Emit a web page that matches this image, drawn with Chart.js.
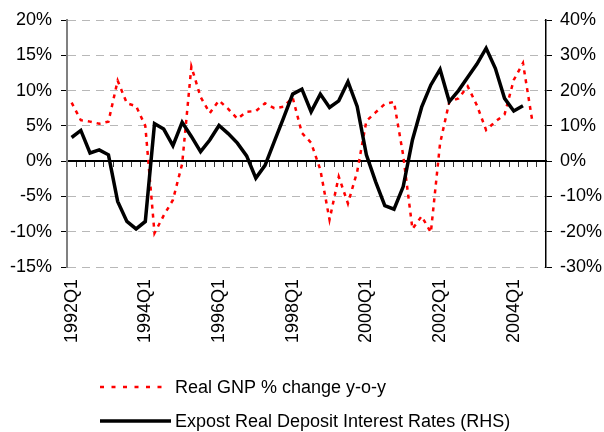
<!DOCTYPE html>
<html><head><meta charset="utf-8">
<script src="https://cdn.jsdelivr.net/npm/chart.js@4"></script>
<style>html,body{margin:0;padding:0;background:#fff}canvas{display:block}</style>
</head><body>
<canvas id="c" width="604" height="432"></canvas>
<script>
const quarters = [
 '1992Q1','1992Q2','1992Q3','1992Q4','1993Q1','1993Q2','1993Q3','1993Q4',
 '1994Q1','1994Q2','1994Q3','1994Q4','1995Q1','1995Q2','1995Q3','1995Q4',
 '1996Q1','1996Q2','1996Q3','1996Q4','1997Q1','1997Q2','1997Q3','1997Q4',
 '1998Q1','1998Q2','1998Q3','1998Q4','1999Q1','1999Q2','1999Q3','1999Q4',
 '2000Q1','2000Q2','2000Q3','2000Q4','2001Q1','2001Q2','2001Q3','2001Q4',
 '2002Q1','2002Q2','2002Q3','2002Q4','2003Q1','2003Q2','2003Q3','2003Q4',
 '2004Q1','2004Q2','2004Q3','2004Q4'];
const shownTicks = ['1992Q1','1994Q1','1996Q1','1998Q1','2000Q1','2002Q1','2004Q1'];
// Real GNP % change y-o-y (left axis)
const gnpGrowth = [
 8.3, 5.8, 5.6, 5.3, 5.6, 11.4, 8.2, 7.8,
 5.0, -10.2, -7.7, -5.5, -0.4, 13.4, 9.1, 6.8,
 8.6, 7.4, 6.0, 7.0, 7.1, 8.2, 7.5, 7.7,
 9.0, 4.0, 2.6, -1.2, -8.3, -2.2, -6.0, -1.5,
 5.7, 6.9, 8.1, 8.4, 0.8, -9.6, -7.8, -10.1,
 2.5, 8.4, 8.9, 10.6, 7.9, 4.4, 5.6, 6.6,
 11.5, 13.9, 5.8, null];
// Expost real deposit interest rates (right axis)
const realDepositRate = [
 6.7, 8.7, 2.3, 3.2, 1.8, -11.4, -17.1, -19.2,
 -17.1, 10.6, 9.1, 4.4, 11.0, 7.0, 2.7, 6.0,
 10.1, 7.8, 5.1, 1.5, -4.8, -1.2, 5.5, 12.2,
 19.0, 20.4, 14.0, 19.0, 15.2, 17.1, 22.5, 15.5,
 1.8, -5.8, -12.6, -13.6, -7.2, 6.0, 15.3, 21.6,
 26.0, 16.9, 20.0, 23.8, 27.5, 32.0, 26.3, 17.8,
 14.2, 15.7, null, null];
const leftRange = [-15, 20, 5];
const rightRange = [-30, 40, 10];

Chart.defaults.font.family = "'Liberation Sans', Arial, sans-serif";
Chart.defaults.font.size = 18;
Chart.defaults.color = '#000';

const bottomLegend = {
  id: 'bottomLegend',
  afterDraw(chart) {
    const ctx = chart.ctx;
    const x0 = chart.chartArea.left + 33;
    const rows = [chart.height - 45, chart.height - 11];
    const samples = [{dash:[4,7.5], end:163}, {dash:[], end:171}];
    chart.data.datasets.forEach((ds, i) => {
      const y = rows[i];
      ctx.save();
      ctx.strokeStyle = ds.borderColor;
      ctx.lineWidth = ds.borderWidth;
      ctx.setLineDash(samples[i].dash);
      ctx.beginPath();
      ctx.moveTo(x0, y);
      ctx.lineTo(samples[i].end, y);
      ctx.stroke();
      ctx.setLineDash([]);
      ctx.fillStyle = '#000';
      ctx.font = "18px 'Liberation Sans', Arial, sans-serif";
      ctx.textBaseline = 'middle';
      ctx.textAlign = 'left';
      ctx.fillText(ds.label, 175, y + 1);
      ctx.restore();
    });
  }
};

new Chart(document.getElementById('c'), {
  type: 'line',
  data: {
    labels: quarters,
    datasets: [
      { label: 'Real GNP % change y-o-y', data: gnpGrowth, xAxisID: 'x', yAxisID: 'y',
        borderColor: '#ff0000', borderWidth: 2.5, borderDash: [4,5], pointRadius: 0,
        tension: 0, fill: false, order: 1 },
      { label: 'Expost Real Deposit Interest Rates (RHS)', data: realDepositRate, xAxisID: 'x', yAxisID: 'y1',
        borderColor: '#000000', borderWidth: 3.5, pointRadius: 0, tension: 0, fill: false, order: 0 }
    ]
  },
  options: {
    responsive: false,
    animation: false,
    events: [],
    layout: { padding: { left: 10, right: 2, top: 20, bottom: 80 } },
    plugins: { legend: { display: false }, tooltip: { enabled: false } },
    scales: {
      x: {
        type: 'category', offset: true, position: 'bottom',
        grid: { display: false, drawTicks: false },
        border: { display: false },
        ticks: {
          autoSkip: false, maxRotation: 90, minRotation: 90, padding: 12,
          callback(v) { const l = this.getLabelForValue(v); return shownTicks.includes(l) ? l : ''; }
        },
        afterFit(s) { s.height = 85; }
      },
      x2: {
        type: 'category', offset: true, position: { y: 0 },
        grid: { display: true, drawOnChartArea: false, drawTicks: true, tickLength: 5,
                color: '#333', tickColor: '#333', offset: true, lineWidth: 1 },
        border: { display: true, color: '#000', width: 2 },
        ticks: { display: false },
        afterFit(s) { s.height = 0; }
      },
      y: {
        position: 'left', min: leftRange[0], max: leftRange[1],
        ticks: { stepSize: leftRange[2], padding: 9, callback: v => v + '%' },
        grid: { color: c => (c.tick && c.tick.value === 0) ? 'rgba(0,0,0,0)' : '#b8b8b8',
                lineWidth: 1, tickColor: '#000', tickLength: 6 },
        border: { color: '#808080', width: 2, dash: [8, 6] },
        afterFit(s) { s.width = 57; }
      },
      y1: {
        position: 'right', min: rightRange[0], max: rightRange[1],
        ticks: { stepSize: rightRange[2], padding: 8, callback: v => v + '%' },
        grid: { drawOnChartArea: false, tickColor: '#000', tickLength: 6 },
        border: { color: '#000', width: 1.5 },
        afterFit(s) { s.width = 56; }
      }
    }
  },
  plugins: [bottomLegend]
});
</script>
</body></html>
